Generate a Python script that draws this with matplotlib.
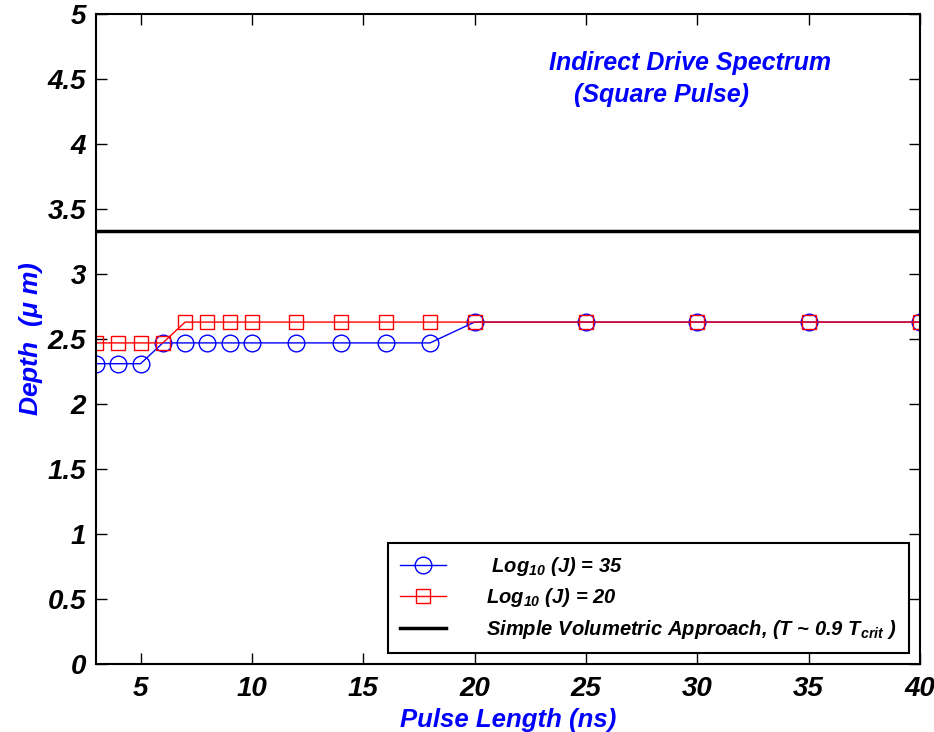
import matplotlib
matplotlib.use("Agg")
import matplotlib.pyplot as plt
import numpy as np

pulse = [3, 4, 5, 6, 7, 8, 9, 10, 12, 14, 16, 18, 20, 25, 30, 35, 40]
depth_j35 = [2.31, 2.31, 2.31, 2.47, 2.47, 2.47, 2.47, 2.47, 2.47, 2.47, 2.47, 2.47, 2.63, 2.63, 2.63, 2.63, 2.63]
depth_j20 = [2.47, 2.47, 2.47, 2.47, 2.63, 2.63, 2.63, 2.63, 2.63, 2.63, 2.63, 2.63, 2.63, 2.63, 2.63, 2.63, 2.63]
volumetric = 3.33
xticks = [5, 10, 15, 20, 25, 30, 35, 40]
yticks = [0, 0.5, 1, 1.5, 2, 2.5, 3, 3.5, 4, 4.5, 5]

plt.rcParams['font.family'] = ['Liberation Sans', 'DejaVu Sans']
plt.rcParams['font.weight'] = 'bold'
plt.rcParams['font.style'] = 'italic'
plt.rcParams['axes.labelweight'] = 'bold'
plt.rcParams['mathtext.fontset'] = 'custom'
plt.rcParams['mathtext.rm'] = 'Liberation Sans:bold:italic'
plt.rcParams['mathtext.it'] = 'Liberation Sans:bold:italic'
plt.rcParams['mathtext.bf'] = 'Liberation Sans:bold:italic'
plt.rcParams['mathtext.default'] = 'rm'

fig = plt.figure(figsize=(9.34, 7.32), dpi=100)
ax = fig.add_axes([96/934, 68/732, (920-96)/934, (664-14)/732])

ax.plot(pulse, depth_j35, color='blue', lw=1.0, marker='o', ms=12, mfc='none', mec='blue', mew=1.0,
        label=r' Log$_{10}$ (J) = 35')
ax.plot(pulse, depth_j20, color='red', lw=1.0, marker='s', ms=10, mfc='none', mec='red', mew=1.0,
        label=r'Log$_{10}$ (J) = 20')
ax.axhline(volumetric, color='black', lw=2.5,
           label=r'Simple Volumetric Approach, (T ~ 0.9 T$_{crit}$ )')

ax.set_xlim(3, 40)
ax.set_ylim(0, 5)
ax.set_xticks(xticks)
ax.set_yticks(yticks)
ax.set_xticklabels([str(v) for v in xticks])
ax.set_yticklabels([('%g' % v) for v in yticks])
ax.tick_params(direction='in', length=8, width=1, top=True, right=True, labelsize=20)
ax.tick_params(axis='x', pad=9)
ax.tick_params(axis='y', pad=7)
for lab in ax.get_xticklabels() + ax.get_yticklabels():
    lab.set_fontweight('bold'); lab.set_fontstyle('italic')
for s in ax.spines.values():
    s.set_linewidth(1.5)

ax.set_xlabel('Pulse Length (ns)', color='blue', fontsize=18.5, fontweight='bold', labelpad=4)
ax.set_ylabel(r'Depth  ($\mu$ m)', color='blue', fontsize=19, fontweight='bold', labelpad=2)

fig.text(690/934, 1 - 63/732, 'Indirect Drive Spectrum', color='blue',
         fontsize=18, ha='center', va='center')
fig.text(662/934, 1 - 95/732, '(Square Pulse)', color='blue',
         fontsize=18, ha='center', va='center')

leg = ax.legend(loc='lower right', bbox_to_anchor=(1.0, 0.0), fontsize=14.5, frameon=True,
                fancybox=False, edgecolor='black', framealpha=1, handlelength=2.3,
                handletextpad=2.0, borderpad=0.6, labelspacing=0.42, borderaxespad=0.55)
leg.get_frame().set_linewidth(1.5)

fig.savefig('out.png', dpi=100)
